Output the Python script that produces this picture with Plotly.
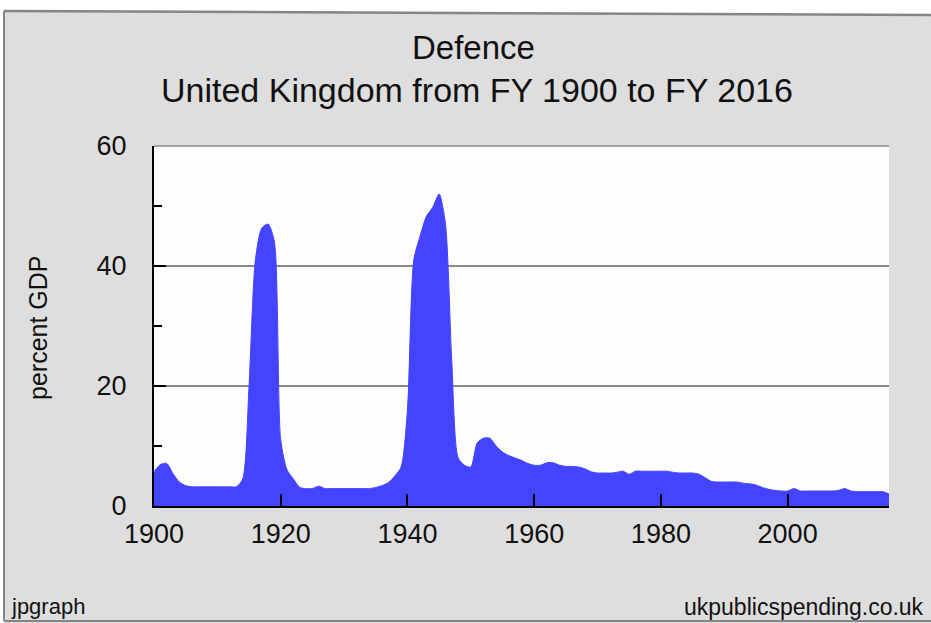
import plotly.graph_objects as go

# ---- data ----
years = list(range(1900, 2017))
defence_pct_gdp = [
    5.7, 6.9, 7.1, 5.4, 4.0, 3.4, 3.2, 3.2, 3.2, 3.2,      # 1900-1909
    3.2, 3.2, 3.2, 3.2, 4.5, 20.0, 41.0, 46.3, 47.0, 44.0,  # 1910-1919
    11.0, 6.0, 4.5, 3.1, 2.9, 2.9, 3.3, 2.9, 2.9, 2.9,     # 1920-1929
    2.9, 2.9, 2.9, 2.9, 2.9, 3.1, 3.4, 3.9, 5.0, 6.5,      # 1930-1939
    16.0, 41.0, 45.0, 48.3, 49.8, 52.0, 47.0, 24.0, 8.0, 6.8,  # 1940-1949
    6.5, 10.5, 11.3, 11.3, 10.0, 9.0, 8.4, 8.0, 7.6, 7.1,  # 1950-1959
    6.8, 6.8, 7.2, 7.2, 6.8, 6.6, 6.6, 6.5, 6.2, 5.7,      # 1960-1969
    5.5, 5.5, 5.5, 5.6, 5.8, 5.3, 5.8, 5.8, 5.8, 5.8,      # 1970-1979
    5.8, 5.8, 5.6, 5.5, 5.5, 5.5, 5.3, 4.7, 4.1, 4.0,      # 1980-1989
    4.0, 4.0, 4.0, 3.8, 3.7, 3.5, 3.1, 2.8, 2.6, 2.5,      # 1990-1999
    2.5, 2.9, 2.5, 2.5, 2.5, 2.5, 2.5, 2.5, 2.6, 2.9,      # 2000-2009
    2.5, 2.4, 2.4, 2.4, 2.4, 2.4, 2.0,                     # 2010-2016
]
x_ticks = [1900, 1920, 1940, 1960, 1980, 2000]
y_ticks = [0, 20, 40, 60]

title_line1 = "Defence"
title_line2 = "United Kingdom from FY 1900 to FY 2016"
y_title = "percent GDP"
left_credit = "jpgraph"
right_credit = "ukpublicspending.co.uk"

# ---- layout geometry ----
W, H = 931, 623
L, R, T, B = 154, 42, 146, 117
PW, PH = W - L - R, H - T - B


def px(xp):
    return (xp - L) / PW


def py(yp):
    return (H - B - yp) / PH


FONT = "Liberation Sans, Arial, sans-serif"
BG = "#dedede"
FRAME = "#858585"
BLUE = "#4444ff"

fig = go.Figure()
fig.add_trace(go.Scatter(
    x=years, y=defence_pct_gdp, mode="lines", fill="tozeroy",
    fillcolor=BLUE, line=dict(color=BLUE, width=1, shape="spline", smoothing=0.7),
    hoverinfo="x+y", showlegend=False,
))

shapes = [
    # white strip above the slanted frame and left of it
    dict(type="path", xref="paper", yref="paper", layer="below",
         path=f"M {px(-5)},{py(-5)} L {px(W+5)},{py(-5)} L {px(W+5)},{py(15)} "
              f"L {px(4)},{py(11)} L {px(4)},{py(H+5)} L {px(-5)},{py(H+5)} Z",
         fillcolor="white", line=dict(width=0)),
    # frame lines
    dict(type="line", xref="paper", yref="paper", x0=px(4), y0=py(11), x1=px(W), y1=py(15),
         line=dict(color=FRAME, width=2.5)),
    dict(type="line", xref="paper", yref="paper", x0=px(4), y0=py(11), x1=px(4), y1=py(621),
         line=dict(color=FRAME, width=2)),
    dict(type="line", xref="paper", yref="paper", x0=px(4), y0=py(621), x1=px(W), y1=py(621),
         line=dict(color=FRAME, width=2)),
    # top border of plot area
    dict(type="line", xref="paper", yref="paper", x0=0, y0=1, x1=1, y1=1,
         line=dict(color="#8a8a8a", width=1.5)),
]

annotations = [
    dict(text=title_line1, x=px(473), y=py(47), xref="paper", yref="paper",
         showarrow=False, xanchor="center", yanchor="middle",
         font=dict(family=FONT, size=33, color="#111111")),
    dict(text=title_line2, x=px(477), y=py(90), xref="paper", yref="paper",
         showarrow=False, xanchor="center", yanchor="middle",
         font=dict(family=FONT, size=34, color="#111111")),
    dict(text=y_title, x=px(38), y=py(328), xref="paper", yref="paper",
         showarrow=False, xanchor="center", yanchor="middle", textangle=-90,
         font=dict(family=FONT, size=25, color="#111111")),
    dict(text=left_credit, x=px(9), y=py(606), xref="paper", yref="paper",
         showarrow=False, xanchor="left", yanchor="middle",
         font=dict(family=FONT, size=22, color="#111111")),
    dict(text=right_credit, x=px(926), y=py(607), xref="paper", yref="paper",
         showarrow=False, xanchor="right", yanchor="middle",
         font=dict(family=FONT, size=23, color="#111111")),
]

fig.update_layout(
    width=W, height=H,
    margin=dict(l=L, r=R, t=T, b=B, pad=0),
    paper_bgcolor=BG, plot_bgcolor="#fdfdfd",
    shapes=shapes, annotations=annotations,
    showlegend=False,
    xaxis=dict(
        range=[1900, 2016], tickmode="array", tickvals=x_ticks,
        ticktext=[str(v) for v in x_ticks],
        ticks="inside", ticklen=12, tickwidth=2, tickcolor="black",
        showline=True, linecolor="black", linewidth=2,
        showgrid=False, zeroline=False, ticklabelstandoff=3,
        tickfont=dict(family=FONT, size=27, color="#111111"),
    ),
    yaxis=dict(
        range=[0, 60], tickmode="array", tickvals=y_ticks,
        ticktext=[str(v) for v in y_ticks],
        ticks="inside", ticklen=12, tickwidth=2, tickcolor="black",
        showline=True, linecolor="black", linewidth=2,
        showgrid=True, gridcolor="#8a8a8a", gridwidth=1.5,
        zeroline=False, ticklabelstandoff=20,
        tickfont=dict(family=FONT, size=27, color="#111111"),
        minor=dict(tickvals=[10, 30, 50], ticks="inside", ticklen=8,
                   tickwidth=2, tickcolor="black", showgrid=False),
    ),
)

fig.write_html(
    "out.html",
    config={"displayModeBar": False},
    post_script="document.body.style.margin='0';document.body.style.padding='0';"
                "document.body.style.overflow='hidden';",
)
